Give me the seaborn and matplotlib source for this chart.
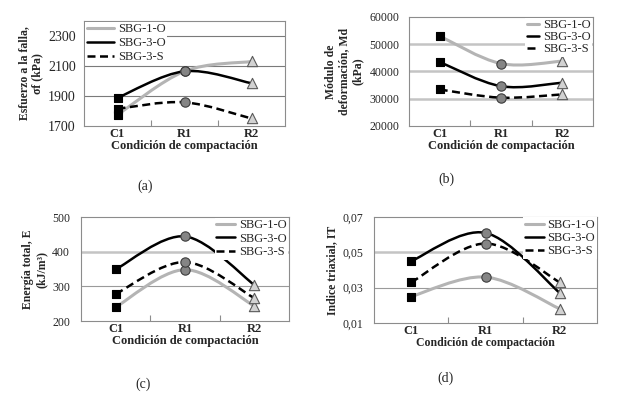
import numpy as np
import pandas as pd
import matplotlib
matplotlib.use("Agg")
import matplotlib.pyplot as plt
from matplotlib.path import Path
from matplotlib.patches import PathPatch
from matplotlib.lines import Line2D
from matplotlib.ticker import FuncFormatter
import seaborn as sns

# datos
condiciones = ["C1", "R1", "R2"]
series = ["SBG-1-O", "SBG-3-O", "SBG-3-S"]

esfuerzo_sbg1o = [1775, 2065, 2130]
esfuerzo_sbg3o = [1888, 2065, 1985]
esfuerzo_sbg3s = [1815, 1858, 1750]

modulo_sbg1o = [53000, 42900, 43800]
modulo_sbg3o = [43500, 34600, 35900]
modulo_sbg3s = [33400, 30400, 31600]

energia_sbg1o = [240, 348, 243]
energia_sbg3o = [349, 444, 304]
energia_sbg3s = [278, 370, 266]

indice_sbg1o = [0.025, 0.036, 0.018]
indice_sbg3o = [0.045, 0.061, 0.027]
indice_sbg3s = [0.033, 0.055, 0.033]

sns.set_theme(style="white")
plt.rcParams["font.family"] = ["Liberation Serif", "DejaVu Serif"]

estilo_linea = {
    "SBG-1-O": dict(color="#b4b4b4", lw=2.2, ls="-"),
    "SBG-3-O": dict(color="black", lw=1.8, ls="-"),
    "SBG-3-S": dict(color="black", lw=1.8, ls=(0, (3.2, 1.8))),
}
estilo_marcador = {
    "C1": dict(marker="s", color="black", edgecolor="black", s=30),
    "R1": dict(marker="o", color="#858585", edgecolor="#3c3c3c", s=45),
    "R2": dict(marker="^", color="#d2d2d2", edgecolor="#5a5a5a", s=55),
}


def tabla(v1, v2, v3):
    filas = []
    for serie, vals in zip(series, [v1, v2, v3]):
        for i, (c, v) in enumerate(zip(condiciones, vals)):
            filas.append({"serie": serie, "condicion": c, "pos": i, "valor": v})
    return pd.DataFrame(filas)


def curva_suave(ax, x, y, **kw):
    # linea suavizada tipo Excel (Catmull-Rom como bezier cubica)
    x = np.asarray(x, float)
    y = np.asarray(y, float)
    px = np.concatenate([[x[0]], x, [x[-1]]])
    py = np.concatenate([[y[0]], y, [y[-1]]])
    verts = [(x[0], y[0])]
    codes = [Path.MOVETO]
    for i in range(len(x) - 1):
        c1 = (px[i + 1] + (px[i + 2] - px[i]) / 6, py[i + 1] + (py[i + 2] - py[i]) / 6)
        c2 = (px[i + 2] - (px[i + 3] - px[i + 1]) / 6, py[i + 2] - (py[i + 3] - py[i + 1]) / 6)
        verts += [c1, c2, (x[i + 1], y[i + 1])]
        codes += [Path.CURVE4] * 3
    patch = PathPatch(Path(verts, codes), fill=False, capstyle="butt", zorder=2,
                      edgecolor=kw["color"], linewidth=kw["lw"], linestyle=kw["ls"])
    ax.add_patch(patch)


def panel(ax, df, ylim, yticks, ylabel, grid_styles, leg_kw, fmt=None, labelpad=4,
          tickpad=8, ytick_size=9, xlabel_size=9):
    for y, st in zip(yticks[1:], grid_styles):
        ax.axhline(y, color=st[0], lw=st[1], zorder=1)
    for serie in series:
        sub = df[df["serie"] == serie]
        curva_suave(ax, sub["pos"], sub["valor"], **estilo_linea[serie])
    for c in condiciones:
        sub = df[df["condicion"] == c]
        st = estilo_marcador[c]
        sns.scatterplot(data=sub, x="pos", y="valor", marker=st["marker"], color=st["color"],
                        edgecolor=st["edgecolor"], linewidth=0.8, s=st["s"], ax=ax,
                        legend=False, zorder=3)
    ax.set_xlim(-0.5, 2.5)
    ax.set_ylim(*ylim)
    ax.set_yticks(yticks)
    if fmt:
        ax.yaxis.set_major_formatter(FuncFormatter(fmt))
    ax.set_xticks(range(len(condiciones)))
    ax.set_xticklabels(condiciones, fontweight="bold", fontsize=9)
    ax.set_xticks([0.5, 1.5], minor=True)
    ax.tick_params(axis="x", which="major", length=0, pad=1.5)
    ax.tick_params(axis="x", which="minor", length=4, direction="in", color="#8c8c8c", width=0.8, bottom=True)
    ax.tick_params(axis="y", length=0, pad=tickpad, labelsize=ytick_size)
    ax.set_xlabel("Condición de compactación", fontweight="bold", fontsize=xlabel_size, labelpad=0)
    ax.set_ylabel(ylabel, fontweight="bold", fontsize=8.5, labelpad=labelpad, linespacing=1.15)
    for sp in ax.spines.values():
        sp.set_color("#8c8c8c")
        sp.set_linewidth(0.8)
    handles = [Line2D([], [], color=estilo_linea[s]["color"], lw=estilo_linea[s]["lw"],
                      ls=estilo_linea[s]["ls"]) for s in series]
    opts = dict(fontsize=9, frameon=True, fancybox=False, borderpad=0.15, labelspacing=0.1,
                handletextpad=0.3, borderaxespad=0.1)
    opts.update(leg_kw)
    leg = ax.legend(handles, series, **opts)
    leg.get_frame().set_facecolor("white")
    leg.get_frame().set_edgecolor("none")
    leg.get_frame().set_alpha(1)
    leg.set_zorder(5)


fig = plt.figure(figsize=(6.24, 3.98), dpi=100)
W, H = 624, 398
ax_a = fig.add_axes([84 / W, 1 - 126 / H, 201 / W, 105 / H])
ax_b = fig.add_axes([409 / W, 1 - 126 / H, 184 / W, 109 / H])
ax_c = fig.add_axes([81 / W, 1 - 321 / H, 208 / W, 104 / H])
ax_d = fig.add_axes([374 / W, 1 - 323 / H, 223 / W, 106 / H])

panel(ax_a, tabla(esfuerzo_sbg1o, esfuerzo_sbg3o, esfuerzo_sbg3s), (1700, 2400),
      [1700, 1900, 2100, 2300], "Esfuerzo a la falla,\nσf (kPa)",
      [("#7a7a7a", 0.8)] * 3,
      dict(loc="upper left", handlelength=2.2, labelspacing=0.15, borderaxespad=0.05),
      labelpad=3, tickpad=6, ytick_size=10)
panel(ax_b, tabla(modulo_sbg1o, modulo_sbg3o, modulo_sbg3s), (20000, 60000),
      [20000, 30000, 40000, 50000, 60000], "Módulo de\ndeformación, Md\n(kPa)",
      [("#c4c4c4", 1.8)] * 3,
      dict(loc="upper right", handlelength=1.0, labelspacing=0.0, borderaxespad=0.05),
      labelpad=4, tickpad=7, ytick_size=8.5)
panel(ax_c, tabla(energia_sbg1o, energia_sbg3o, energia_sbg3s), (200, 500),
      [200, 300, 400, 500], "Energía total, E\n(kJ/m³)",
      [("#9a9a9a", 0.8), ("#c4c4c4", 1.8)],
      dict(loc="upper right", handlelength=1.5, borderaxespad=0.05),
      labelpad=3, tickpad=8, ytick_size=8.5)
panel(ax_d, tabla(indice_sbg1o, indice_sbg3o, indice_sbg3s), (0.01, 0.07),
      [0.01, 0.03, 0.05, 0.07], "Indice triaxial, IT",
      [("#9a9a9a", 0.8), ("#c4c4c4", 1.8)],
      dict(loc="upper right", handlelength=1.5, borderaxespad=0.0),
      fmt=lambda v, p: f"{v:.2f}".replace(".", ","),
      labelpad=3, tickpad=8, ytick_size=8.5, xlabel_size=8.5)

for txt, x, y in [("(a)", 145, 186), ("(b)", 446, 179), ("(c)", 143, 384), ("(d)", 446, 378)]:
    fig.text(x / W, 1 - y / H, txt, ha="center", va="center", fontsize=10)

fig.savefig("out.png", dpi=100)
